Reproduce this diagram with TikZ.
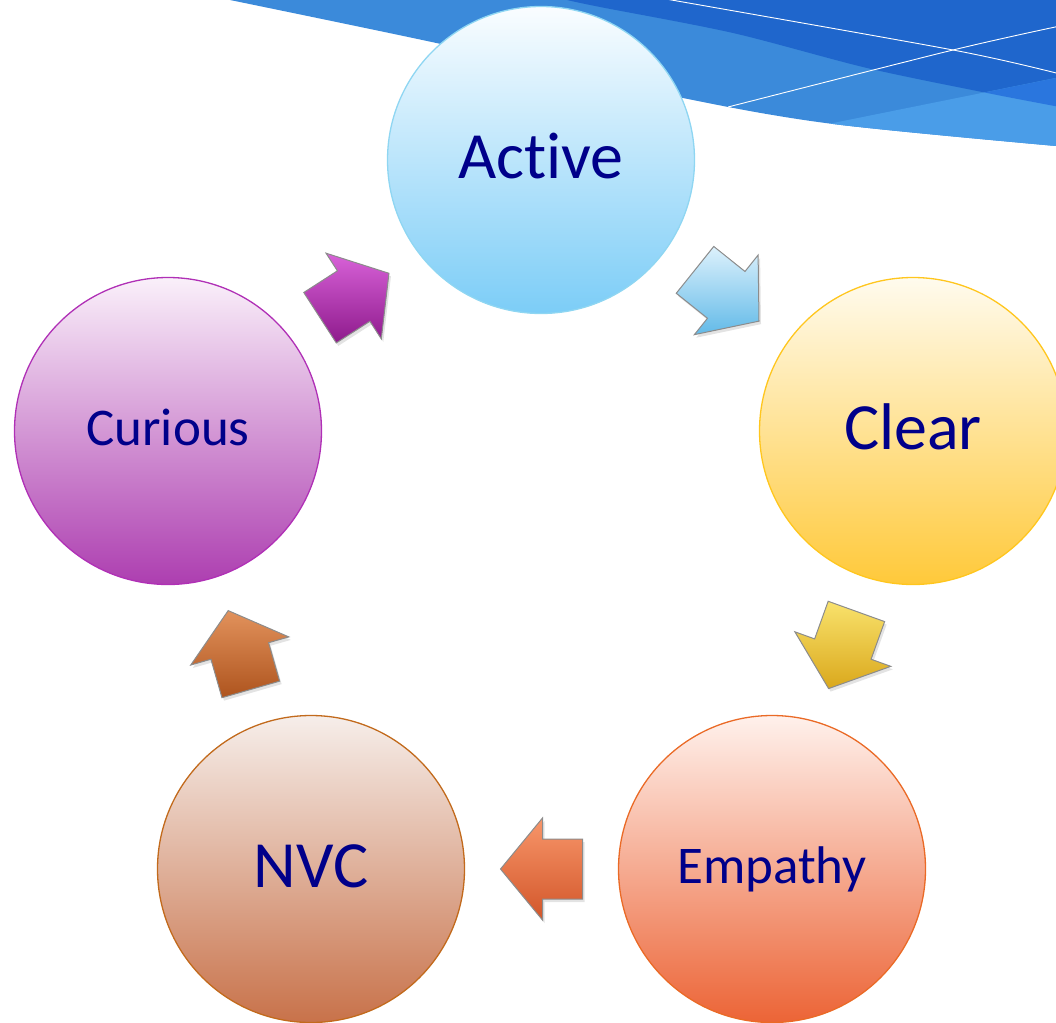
\documentclass[tikz,border=0pt]{standalone}
\usepackage{fontspec}
\setmainfont{Carlito}[Ligatures=NoCommon]
\usetikzlibrary{calc,shadows}

\definecolor{swmid}{HTML}{3B8ADA}
\definecolor{swdark}{HTML}{1F66CC}
\definecolor{swlight}{HTML}{4A9DE8}
\definecolor{swmix}{HTML}{2A76DE}
\definecolor{labelblue}{HTML}{00008A}
\definecolor{arrowline}{HTML}{8C8C8C}

\definecolor{actT}{HTML}{FAFDFF}\definecolor{actB}{HTML}{7CCDF7}\definecolor{actL}{HTML}{8FD6F2}
\definecolor{clrT}{HTML}{FFFBEE}\definecolor{clrB}{HTML}{FFC93A}\definecolor{clrL}{HTML}{FFC61E}
\definecolor{empT}{HTML}{FFF1EC}\definecolor{empB}{HTML}{EC6436}\definecolor{empL}{HTML}{EA6A26}
\definecolor{nvcT}{HTML}{F6EEEA}\definecolor{nvcB}{HTML}{C8724A}\definecolor{nvcL}{HTML}{C26A1C}
\definecolor{curT}{HTML}{FAF0FA}\definecolor{curB}{HTML}{AD3EB0}\definecolor{curL}{HTML}{B030B6}

\definecolor{a1T}{HTML}{DDF1FC}\definecolor{a1B}{HTML}{62BAE8}
\definecolor{a2T}{HTML}{F9E26C}\definecolor{a2B}{HTML}{DAA81C}
\definecolor{a3T}{HTML}{F8966A}\definecolor{a3B}{HTML}{D2562A}
\definecolor{a4T}{HTML}{E2925C}\definecolor{a4B}{HTML}{AE541E}
\definecolor{a5T}{HTML}{D862D8}\definecolor{a5B}{HTML}{8E1A8C}

\tikzset{
  bubble/.style={circle, minimum size=307pt, inner sep=0pt, line width=1.3pt,
    text=labelblue},
  bigtext/.style={font=\fontsize{66}{70}\selectfont, text height=42pt, text depth=6pt},
  smalltext/.style={font=\fontsize{53}{58}\selectfont, text height=34pt, text depth=6pt},
  whiteline/.style={draw=white, line width=0.9pt},
  pics/flowarrow/.style n args={2}{code={
    \path[draw=arrowline, line width=1pt, top color=#1, bottom color=#2,
          drop shadow={opacity=0.22, shadow xshift=2pt, shadow yshift=-3pt}]
      (-41,-30) -- (-1,-30) -- (-1,-51) -- (41,0) -- (-1,51) -- (-1,30) -- (-41,30) -- cycle;
  }}
}

\begin{document}
\begin{tikzpicture}[x=1pt,y=-1pt]
\useasboundingbox (0,0) rectangle (1056,1022);

% blue swoosh in the top right corner
\def\swoosh{(230,0) -- (1060,0) -- (1060,146) -- (1056,146)
  -- plot[smooth] coordinates {(1056,146) (833,124) (683,98) (441,44) (230,0)} -- cycle}
\def\darkband{(500,-5) -- (567,-5)
  -- plot[smooth] coordinates {(567,0) (600,7) (733,33) (867,68) (987,93) (1060,107)}
  -- (1060,-5) -- cycle}
\def\lightband{(780,133.7) -- (1060,77.2) -- (1060,200) -- (780,200) -- cycle}
\begin{scope}
  \clip \swoosh;
  \fill[swmid] (200,-5) rectangle (1060,160);
  \fill[swdark] \darkband;
  \fill[swlight] \lightband;
  \begin{scope}
    \clip \darkband;
    \fill[swmix] \lightband;
  \end{scope}
  \draw[whiteline] plot[smooth] coordinates {(660,-2) (953,50) (1060,74)};
  \draw[whiteline] plot[smooth] coordinates {(728,107) (953,50) (1060,26)};
\end{scope}

% the five stages
\node[bubble, bigtext, draw=actL, top color=actT, bottom color=actB] (active) at (541,160) {Active};
\node[bubble, bigtext, draw=clrL, top color=clrT, bottom color=clrB] (clear) at (913,431) {Clear};
\node[bubble, smalltext, draw=empL, top color=empT, bottom color=empB] (empathy) at (772,869) {Empathy};
\node[bubble, bigtext, draw=nvcL, top color=nvcT, bottom color=nvcB] (nvc) at (311,869) {NVC};
\node[bubble, smalltext, draw=curL, top color=curT, bottom color=curB] (curious) at (168,431) {Curious};

% block arrows between the stages
\pic[rotate=-38.7] at ($(active)!0.5!(clear)$) {flowarrow={a1T}{a1B}};
\pic[rotate=-109.8] at ($(clear)!0.5!(empathy)$) {flowarrow={a2T}{a2B}};
\pic[rotate=180] at ($(empathy)!0.5!(nvc)$) {flowarrow={a3T}{a3B}};
\pic[rotate=106] at ($(nvc)!0.5!(curious)$) {flowarrow={a4T}{a4B}};
\pic[rotate=32.8] at ($(curious)!0.5!(active)$) {flowarrow={a5T}{a5B}};
\end{tikzpicture}
\end{document}
